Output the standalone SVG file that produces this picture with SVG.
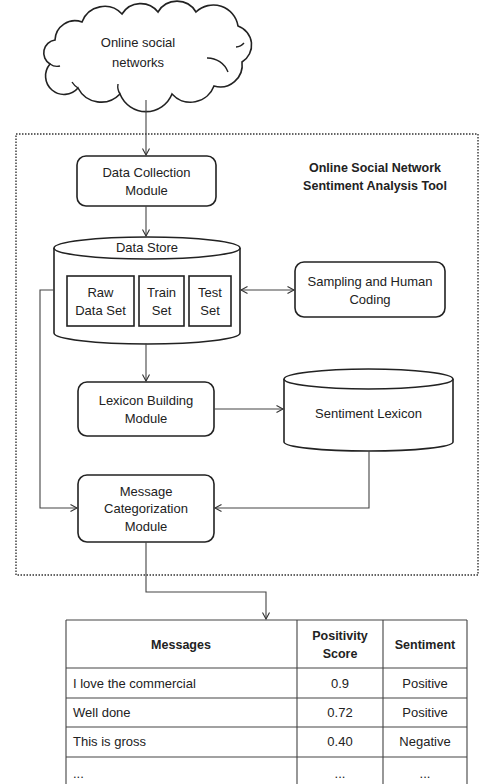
<svg xmlns="http://www.w3.org/2000/svg" width="479" height="784" viewBox="0 0 479 784">
<defs>
<marker id="arr" markerWidth="10" markerHeight="10" refX="7" refY="4" orient="auto-start-reverse" markerUnits="userSpaceOnUse">
<path d="M0.5,0.5 L7,4 L0.5,7.5" fill="none" stroke="#333" stroke-width="1.1"/>
</marker>
<style>
text{font-family:"Liberation Sans",Arial,sans-serif;font-size:13px;fill:#222;}
.c{text-anchor:middle;}
.b{font-weight:bold;font-size:12.5px;}
.box{fill:#fff;stroke:#222;stroke-width:1.6;}
.conn{fill:none;stroke:#444;stroke-width:1.1;}
.tbl{fill:none;stroke:#444;stroke-width:1.1;}
</style>
</defs>
<rect width="479" height="784" fill="#fff"/>
<rect x="16" y="134" width="462" height="441" fill="none" stroke="#333" stroke-width="1.4" stroke-dasharray="1.5 1.5"/>
<g id="title">
<text class="c b" x="375" y="172">Online Social Network</text>
<text class="c b" x="375" y="190">Sentiment Analysis Tool</text>
</g>
<g id="cloud">
<path class="box" d="M50,64 A13,13 0 0 1 55,40 A20,20 0 0 1 82,22 A24,24 0 0 1 122,14 A22,22 0 0 1 158,12 A22,22 0 0 1 196,12 A25,25 0 0 1 238,26 A20,20 0 0 1 242,62 A22,22 0 0 1 214,86 A25,25 0 0 1 172,94 A28,28 0 0 1 120,94 A26,26 0 0 1 78,88 A16,16 0 0 1 50,64 Z"/>
<path fill="none" stroke="#222" stroke-width="1.4" d="M207,58 A22,22 0 0 1 228,72 M236,47 A12,12 0 0 0 244,43 M78,88 A18,18 0 0 1 72,82 M50,64 A12,12 0 0 0 60,66 M120,94 A14,14 0 0 1 118,84"/>
<text class="c" x="138" y="47">Online social</text>
<text class="c" x="138" y="67">networks</text>
</g>
<g id="data-collection">
<rect class="box" x="77" y="156" width="139" height="50" rx="9"/>
<text class="c" x="146.5" y="177">Data Collection</text>
<text class="c" x="146.5" y="195">Module</text>
</g>
<g id="data-store">
<path class="box" d="M54,248 L54,333 A93,11 0 0 0 240,333 L240,248"/>
<ellipse class="box" cx="147" cy="248" rx="93" ry="11"/>
<text class="c" x="147" y="252">Data Store</text>
<rect class="box" x="67" y="276" width="67" height="50"/>
<text class="c" x="100.5" y="297">Raw</text>
<text class="c" x="100.5" y="315">Data Set</text>
<rect class="box" x="139" y="276" width="45" height="50"/>
<text class="c" x="161.5" y="297">Train</text>
<text class="c" x="161.5" y="315">Set</text>
<rect class="box" x="189" y="276" width="42" height="50"/>
<text class="c" x="210" y="297">Test</text>
<text class="c" x="210" y="315">Set</text>
</g>
<g id="sampling">
<rect class="box" x="295" y="262" width="150" height="55" rx="9"/>
<text class="c" x="370" y="286">Sampling and Human</text>
<text class="c" x="370" y="304">Coding</text>
</g>
<g id="lexicon-building">
<rect class="box" x="78" y="382" width="136" height="54" rx="9"/>
<text class="c" x="146" y="405">Lexicon Building</text>
<text class="c" x="146" y="423">Module</text>
</g>
<g id="sentiment-lexicon">
<path class="box" d="M284,379 L284,442 A84.5,9 0 0 0 453,442 L453,379"/>
<ellipse class="box" cx="368.5" cy="379" rx="84.5" ry="10"/>
<text class="c" x="368.5" y="418">Sentiment Lexicon</text>
</g>
<g id="message-categorization">
<rect class="box" x="78" y="475" width="136" height="67" rx="9"/>
<text class="c" x="146" y="496">Message</text>
<text class="c" x="146" y="513">Categorization</text>
<text class="c" x="146" y="531">Module</text>
</g>
<g id="connectors">
<path class="conn" d="M146,100 L146,155" marker-end="url(#arr)"/>
<path class="conn" d="M146,206 L146,236" marker-end="url(#arr)"/>
<path class="conn" d="M241,290 L294,290" marker-start="url(#arr)" marker-end="url(#arr)"/>
<path class="conn" d="M54,290 L40,290 L40,508 L77,508" marker-end="url(#arr)"/>
<path class="conn" d="M146,343 L146,381" marker-end="url(#arr)"/>
<path class="conn" d="M214,409 L283,409" marker-end="url(#arr)"/>
<path class="conn" d="M369,451 L369,508 L215,508" marker-end="url(#arr)"/>
<path class="conn" d="M146,542 L146,592 L266,592 L266,619" marker-end="url(#arr)"/>
</g>
<g id="results-table">
<path class="tbl" d="M66,620 L467,620 M66,668 L467,668 M66,698 L467,698 M66,727 L467,727 M66,757 L467,757 M66,620 L66,790 M297,620 L297,790 M383,620 L383,790 M467,620 L467,790"/>
<text class="c b" x="181" y="649">Messages</text>
<text class="c b" x="340" y="640">Positivity</text>
<text class="c b" x="340" y="658">Score</text>
<text class="c b" x="425" y="649">Sentiment</text>
<text x="73" y="688">I love the commercial</text>
<text class="c" x="340" y="688">0.9</text>
<text class="c" x="425" y="688">Positive</text>
<text x="73" y="717">Well done</text>
<text class="c" x="340" y="717">0.72</text>
<text class="c" x="425" y="717">Positive</text>
<text x="73" y="746">This is gross</text>
<text class="c" x="340" y="746">0.40</text>
<text class="c" x="425" y="746">Negative</text>
<text x="73" y="778">...</text>
<text class="c" x="340" y="778">...</text>
<text class="c" x="425" y="778">...</text>
</g>
</svg>
